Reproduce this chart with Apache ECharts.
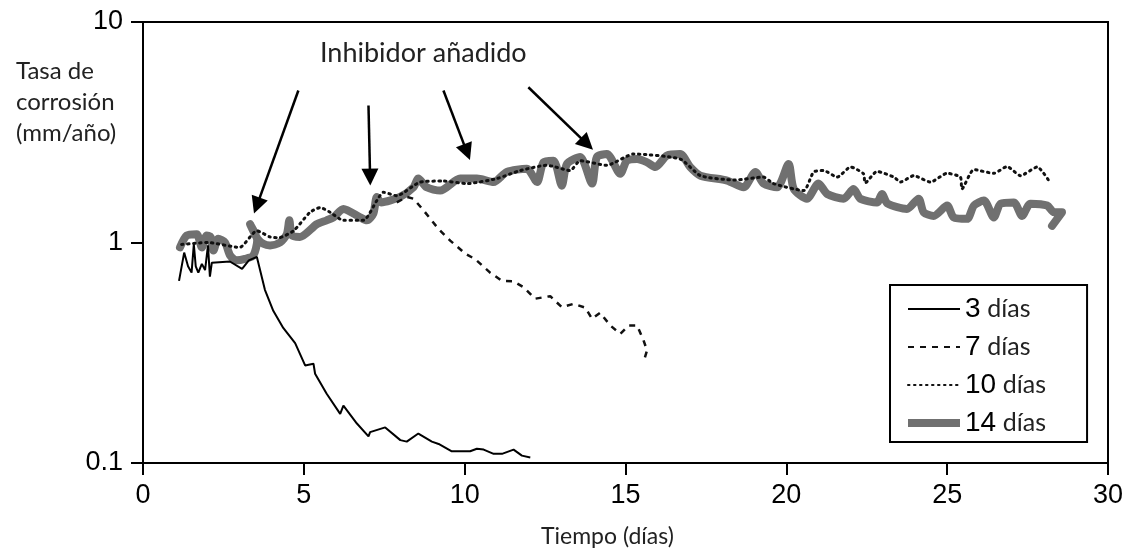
<!DOCTYPE html>
<html>
<head>
<meta charset="utf-8">
<script src="https://cdn.jsdelivr.net/npm/echarts@6/dist/echarts.min.js"></script>
<style>
  html, body { margin: 0; padding: 0; background: #fff; }
  #chart { width: 1127px; height: 552px; }
</style>
</head>
<body>
<div id="chart"></div>
<script>
// tasa de corrosión (mm/año) frente al tiempo (días)
const xTicks = [0, 5, 10, 15, 20, 25, 30]
const yTicks = [0.1, 1, 10]
const serieNombres = ['3 días', '7 días', '10 días', '14 días']

const tasa3 = [
  [1.12, 0.67], [1.28, 0.90], [1.40, 0.78], [1.51, 0.73], [1.58, 0.98], [1.64, 0.78],
  [1.72, 0.73], [1.83, 0.80], [1.93, 0.75], [2.02, 0.97], [2.08, 0.70], [2.14, 0.81],
  [2.70, 0.82], [3.08, 0.76], [3.29, 0.83], [3.54, 0.86], [3.59, 0.86], [3.79, 0.61],
  [4.05, 0.49], [4.36, 0.41], [4.73, 0.35], [5.04, 0.277], [5.30, 0.282], [5.35, 0.254],
  [5.71, 0.206], [6.13, 0.167], [6.23, 0.182], [6.65, 0.151], [7.01, 0.132], [7.06, 0.138],
  [7.53, 0.145], [8.00, 0.127], [8.20, 0.125], [8.56, 0.136], [8.98, 0.125], [9.19, 0.122],
  [9.60, 0.113], [10.17, 0.113], [10.38, 0.116], [10.59, 0.115], [10.90, 0.110], [11.16, 0.110],
  [11.52, 0.115], [11.78, 0.108], [12.04, 0.106]
]

const tasa7 = [
  [7.89, 1.52], [8.20, 1.61], [8.41, 1.58], [8.72, 1.40], [9.19, 1.15], [9.55, 1.02],
  [10.02, 0.89], [10.33, 0.84], [10.79, 0.73], [11.16, 0.67], [11.52, 0.667], [11.83, 0.627],
  [12.19, 0.556], [12.66, 0.571], [13.02, 0.509], [13.39, 0.527], [13.75, 0.506], [13.96, 0.451],
  [14.21, 0.480], [14.53, 0.420], [14.84, 0.385], [15.10, 0.420], [15.36, 0.420], [15.56, 0.360],
  [15.67, 0.324], [15.56, 0.287]
]

const tasa10 = [
  [1.20, 0.98], [2.00, 1.00], [3.00, 0.95], [3.54, 1.13], [3.95, 1.06], [4.21, 1.05],
  [4.68, 1.13], [5.19, 1.37], [5.51, 1.44], [5.82, 1.37], [6.23, 1.26], [6.85, 1.26],
  [7.27, 1.55], [7.47, 1.69], [7.89, 1.63], [8.62, 1.88], [9.34, 1.90], [10.07, 1.85],
  [11.00, 1.95], [11.73, 2.12], [12.56, 2.24], [13.28, 2.12], [13.59, 2.35], [14.42, 2.24],
  [15.25, 2.52], [16.70, 2.39], [17.33, 2.01], [18.40, 1.92], [19.29, 1.98], [19.60, 1.85],
  [20.54, 1.72], [20.85, 2.09], [21.16, 2.12], [21.58, 1.98], [22.00, 2.20], [22.40, 2.05],
  [22.45, 1.86], [22.82, 2.10], [23.34, 1.98], [23.55, 1.88], [23.96, 2.01], [24.48, 1.88],
  [25.00, 2.06], [25.41, 1.98], [25.46, 1.75], [25.83, 2.14], [26.45, 2.06], [26.86, 2.21],
  [27.28, 2.01], [27.80, 2.20], [28.21, 1.86]
]

const tasa14 = [
  [1.15, 0.95], [1.36, 1.075], [1.67, 1.09], [1.83, 0.95], [1.98, 1.075], [2.10, 1.06],
  [2.19, 0.92], [2.34, 1.04], [2.55, 1.00], [2.71, 0.873], [2.91, 0.83], [3.17, 0.843],
  [3.43, 0.873], [3.55, 1.02], [3.33, 1.21], [3.56, 1.04], [3.74, 0.987], [3.95, 0.97],
  [4.26, 1.00], [4.47, 1.09], [4.55, 1.26], [4.63, 1.075], [4.88, 1.06], [5.40, 1.21],
  [5.71, 1.26], [5.92, 1.30], [6.23, 1.42], [6.75, 1.30], [6.96, 1.26], [7.16, 1.35],
  [7.27, 1.61], [7.40, 1.52], [7.99, 1.61], [8.41, 1.78], [8.56, 1.95], [8.82, 1.78],
  [9.24, 1.72], [9.86, 1.95], [10.38, 1.95], [10.90, 1.88], [11.31, 2.09], [11.93, 2.16],
  [12.25, 1.88], [12.45, 2.31], [12.76, 2.35], [13.02, 1.81], [13.18, 2.27], [13.59, 2.44],
  [13.96, 1.85], [14.11, 2.44], [14.42, 2.52], [14.84, 2.05], [15.04, 2.35], [15.36, 2.39],
  [15.67, 2.31], [15.93, 2.20], [16.29, 2.48], [16.70, 2.52], [17.01, 2.20], [17.33, 2.01],
  [18.16, 1.91], [18.67, 1.78], [19.04, 2.09], [19.29, 1.85], [19.71, 1.78], [20.07, 2.27],
  [20.23, 1.75], [20.64, 1.58], [21.00, 1.85], [21.27, 1.66], [21.78, 1.58], [22.09, 1.75],
  [22.30, 1.58], [22.82, 1.52], [22.97, 1.66], [23.15, 1.50], [23.75, 1.42], [24.11, 1.58],
  [24.27, 1.37], [24.58, 1.32], [25.00, 1.47], [25.20, 1.30], [25.62, 1.28], [25.83, 1.47],
  [26.14, 1.55], [26.45, 1.30], [26.66, 1.50], [27.07, 1.52], [27.33, 1.32], [27.59, 1.50],
  [28.11, 1.47], [28.32, 1.37], [28.57, 1.37], [28.26, 1.19]
]

// flechas "Inhibidor añadido": [inicio, punta] en unidades de datos
const flechas = [
  [[4.83, 4.89], [3.54, 1.47]],
  [[7.01, 4.18], [7.06, 1.98]],
  [[9.34, 4.89], [10.07, 2.57]],
  [[11.98, 5.06], [13.80, 2.80]]
]

const numFont = '"Liberation Sans", Arial, sans-serif'
const txtFont = 'Lato, "Open Sans", sans-serif'

const myChart = echarts.init(document.getElementById('chart'), null, { renderer: 'canvas' })

const option = {
  animation: false,
  backgroundColor: '#fff',
  grid: {
    left: 143,
    right: 19,
    top: 22,
    bottom: 89,
    containLabel: false,
    outerBoundsMode: 'none',
    show: true,
    borderColor: '#000',
    borderWidth: 2,
  },
  legend: {
    orient: 'vertical',
    left: 890,
    top: 285,
    data: serieNombres.map(n => n === '14 días'
      ? { name: n, lineStyle: { width: 8, cap: 'butt' } }
      : { name: n }),
    itemWidth: 52,
    itemHeight: 14,
    itemGap: 10,
    padding: [10, 41, 5, 14],
    borderColor: '#000',
    borderWidth: 2,
    itemStyle: { opacity: 0 },
    formatter: function (name) {
      const p = name.split(' ')
      return '{n|' + p[0] + '}  {d|' + p[1] + '}'
    },
    textStyle: {
      rich: {
        n: { fontFamily: numFont, fontSize: 28, color: '#000', lineHeight: 30 },
        d: { fontFamily: txtFont, fontSize: 25, color: '#222', lineHeight: 30 },
      },
    },
  },
  title: {
    text: 'Inhibidor añadido',
    left: 320,
    top: 40,
    padding: 0,
    textStyle: { fontFamily: txtFont, fontSize: 27, fontWeight: 'normal', color: '#222' },
  },
  graphic: [
    {
      type: 'text',
      left: 16,
      top: 56,
      style: {
        text: 'Tasa de\ncorrosión\n(mm/año)',
        fontFamily: txtFont,
        fontSize: 24,
        fill: '#222',
        align: 'center',
        lineHeight: 31,
      },
    },
    {
      type: 'text',
      left: 541,
      top: 525,
      style: {
        text: 'Tiempo (días)',
        fontFamily: txtFont,
        fontSize: 23,
        fill: '#222',
      },
    },
  ],
  xAxis: {
    type: 'value',
    min: xTicks[0],
    max: xTicks[xTicks.length - 1],
    interval: 5,
    splitLine: { show: false },
    axisLine: { lineStyle: { color: '#000', width: 2 } },
    axisTick: { length: 12, lineStyle: { color: '#000', width: 2 } },
    axisLabel: { margin: 19, fontFamily: numFont, fontSize: 27, color: '#000' },
  },
  yAxis: {
    type: 'log',
    logBase: 10,
    min: yTicks[0],
    max: yTicks[yTicks.length - 1],
    splitLine: { show: false },
    minorTick: { show: false },
    axisLine: { show: true, lineStyle: { color: '#000', width: 2 } },
    axisTick: { show: true, length: 12, lineStyle: { color: '#000', width: 2 } },
    axisLabel: {
      margin: 20,
      fontFamily: numFont,
      fontSize: 27,
      color: '#000',
      formatter: function (v) { return String(+v.toPrecision(3)) },
    },
  },
  series: [
    {
      name: '14 días',
      type: 'line',
      data: tasa14,
      symbol: 'none',
      smooth: 0.25,
      z: 2,
      lineStyle: { color: '#707070', width: 8, join: 'round', cap: 'round' },
      itemStyle: { color: '#707070' },
    },
    {
      name: '10 días',
      type: 'line',
      data: tasa10,
      symbol: 'none',
      smooth: 0.2,
      z: 3,
      lineStyle: { color: '#111', width: 3, type: [1.5, 4.5], cap: 'round' },
      itemStyle: { color: '#111' },
    },
    {
      name: '7 días',
      type: 'line',
      data: tasa7,
      symbol: 'none',
      z: 4,
      lineStyle: { color: '#111', width: 2.5, type: [6, 6] },
      itemStyle: { color: '#111' },
    },
    {
      name: '3 días',
      type: 'line',
      data: tasa3,
      symbol: 'none',
      z: 5,
      lineStyle: { color: '#000', width: 2 },
      itemStyle: { color: '#000' },
      markLine: {
        silent: true,
        symbol: ['none', 'triangle'],
        symbolSize: 17,
        label: { show: false },
        lineStyle: { color: '#000', width: 2.5, type: 'solid' },
        data: flechas.map(f => [{ coord: f[0] }, { coord: f[1] }]),
      },
    },
  ],
}

myChart.setOption(option)
</script>
</body>
</html>
